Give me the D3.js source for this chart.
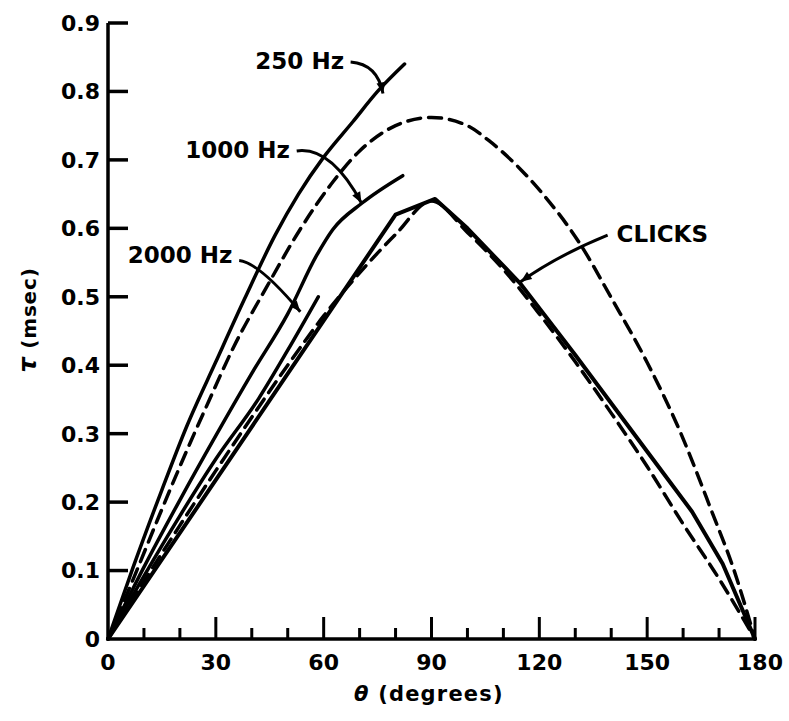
<!DOCTYPE html>
<html>
<head>
<meta charset="utf-8">
<script src="https://cdn.jsdelivr.net/npm/d3@7"></script>
<style>
  html, body { margin: 0; padding: 0; background: #ffffff; }
  svg { display: block; }
  text { font-family: "DejaVu Sans", "Liberation Sans", Arial, sans-serif; font-weight: bold; fill: #000; }
</style>
</head>
<body>
<svg id="chart" width="789" height="721"></svg>
<script>
// ---- data (theta in degrees, tau in msec) ----
const xTicksMajor = [0, 30, 60, 90, 120, 150, 180];
const xTicksMinor = [10, 20, 40, 50, 70, 80, 100, 110, 130, 140, 160, 170];
const yTicks = [0, 0.1, 0.2, 0.3, 0.4, 0.5, 0.6, 0.7, 0.8, 0.9];
const yTickLabels = ["0", "0.1", "0.2", "0.3", "0.4", "0.5", "0.6", "0.7", "0.8", "0.9"];

const hz250 = [[0,0],[7,0.105],[15,0.218],[22,0.312],[30,0.405],[38,0.497],[46.5,0.59],[53,0.65],[60,0.704],[68,0.755],[75,0.8],[82.5,0.84]];
const hz1000 = [[0,0],[10,0.105],[20,0.203],[30,0.297],[40,0.388],[50,0.475],[58,0.56],[62.5,0.598],[70.7,0.637],[82,0.677]];
const hz2000 = [[0,0],[10,0.092],[20,0.18],[30,0.263],[42,0.352],[50,0.422],[58.5,0.5]];
const clicks = [[0,0],[20,0.155],[40,0.31],[60,0.465],[80,0.62],[91,0.643],[100,0.6],[114.6,0.52],[130,0.415],[150,0.274],[162.5,0.186],[171,0.11],[180,0]];
const upperDashed = [[0,0],[8,0.1],[13.6,0.172],[20,0.252],[28,0.347],[35,0.427],[44,0.513],[53.4,0.598],[62.6,0.668],[70,0.713],[80,0.75],[90,0.762],[100,0.75],[106,0.728],[115,0.685],[121,0.65],[131,0.58],[140.5,0.494],[150,0.404],[159,0.305],[168,0.186],[174,0.103],[180,0]];
const lowerDashed = [[0,0],[10,0.084],[20,0.166],[30,0.246],[40,0.324],[50,0.4],[60,0.472],[70,0.535],[80,0.591],[90,0.64],[100,0.594],[110,0.54],[120,0.475],[130,0.405],[140,0.33],[150,0.252],[160,0.168],[170,0.088],[180,0]];

const labels = [
  {text: "250 Hz", theta: 41, tau: 0.845},
  {text: "1000 Hz", theta: 21.5, tau: 0.715},
  {text: "2000 Hz", theta: 5.5, tau: 0.562},
  {text: "CLICKS", theta: 141.5, tau: 0.592}
];
// leaders: [start point, control point, end point] in data coords
const leaders = [
  [[67.5,0.843],[75,0.84],[76.5,0.797]],
  [[52.5,0.713],[62,0.72],[70.5,0.637]],
  [[36.5,0.553],[42,0.55],[53.5,0.478]],
  [[139,0.59],[125,0.56],[114.8,0.522]]
];

// ---- scales ----
const svg = d3.select("#chart");
const x = d3.scaleLinear().domain([0, 180]).range([108, 755]);
const y = d3.scaleLinear().domain([0, 0.9]).range([639, 23]);

const g = svg.append("g");

// axes lines
g.append("line").attr("x1", x(0)).attr("x2", x(0)).attr("y1", y(0)).attr("y2", y(0.9))
  .attr("stroke", "#000").attr("stroke-width", 3.5);
g.append("line").attr("x1", x(0)).attr("x2", x(180)).attr("y1", y(0)).attr("y2", y(0))
  .attr("stroke", "#000").attr("stroke-width", 3.5);

// y ticks (inward)
g.selectAll(".ytick").data(yTicks.filter(d => d > 0)).join("line")
  .attr("x1", x(0)).attr("x2", x(0) + 20)
  .attr("y1", d => y(d)).attr("y2", d => y(d))
  .attr("stroke", "#000").attr("stroke-width", 3.5);
g.selectAll(".ylab").data(yTicks).join("text")
  .attr("x", 100).attr("y", d => y(d)).attr("dy", "0.36em")
  .attr("text-anchor", "end").attr("font-size", 22)
  .text((d, i) => yTickLabels[i]);

// x ticks (inward, upwards)
g.selectAll(".xmaj").data(xTicksMajor.filter(d => d > 0)).join("line")
  .attr("x1", d => x(d)).attr("x2", d => x(d))
  .attr("y1", y(0)).attr("y2", y(0) - 22)
  .attr("stroke", "#000").attr("stroke-width", 3);
g.selectAll(".xmin").data(xTicksMinor).join("line")
  .attr("x1", d => x(d)).attr("x2", d => x(d))
  .attr("y1", y(0)).attr("y2", y(0) - 11)
  .attr("stroke", "#000").attr("stroke-width", 3);
g.selectAll(".xlab").data(xTicksMajor).join("text")
  .attr("x", d => x(d) + (d === 180 ? 5 : 0)).attr("y", y(0) + 23).attr("dy", "0.36em")
  .attr("text-anchor", "middle").attr("font-size", 22)
  .text(d => d);

// axis titles
const xt = g.append("text").attr("x", 354).attr("y", 693).attr("dy", "0.36em")
  .attr("font-size", 21).attr("letter-spacing", 1.2);
xt.append("tspan").attr("font-style", "italic").text("θ");
xt.append("tspan").text(" (degrees)");
const yt = g.append("text").attr("transform", "translate(29,320) rotate(-90)")
  .attr("dy", "0.36em").attr("text-anchor", "middle").attr("font-size", 20).attr("letter-spacing", 0.8);
yt.append("tspan").attr("font-style", "italic").attr("font-size", 24).text("τ");
yt.append("tspan").text(" (msec)");

// curves
const lineSmooth = d3.line().x(d => x(d[0])).y(d => y(d[1])).curve(d3.curveMonotoneX);
const lineStraight = d3.line().x(d => x(d[0])).y(d => y(d[1])).curve(d3.curveLinear);

const series = [
  {data: upperDashed, gen: lineSmooth, dash: "13,8", w: 3.5},
  {data: lowerDashed, gen: lineSmooth, dash: "13,8", w: 3.5},
  {data: hz250, gen: lineSmooth, dash: null, w: 3.5},
  {data: hz1000, gen: lineSmooth, dash: null, w: 3.5},
  {data: hz2000, gen: lineSmooth, dash: null, w: 3.5},
  {data: clicks, gen: lineStraight, dash: null, w: 4}
];
series.forEach(s => {
  g.append("path").attr("d", s.gen(s.data))
    .attr("fill", "none").attr("stroke", "#000")
    .attr("stroke-width", s.w).attr("stroke-linejoin", "round").attr("stroke-linecap", "round")
    .attr("stroke-dasharray", s.dash);
});

// labels
g.selectAll(".lab").data(labels).join("text")
  .attr("x", d => x(d.theta)).attr("y", d => y(d.tau)).attr("dy", "0.36em")
  .attr("font-size", 23).text(d => d.text);

// leaders with arrowheads
leaders.forEach(L => {
  const p = L.map(d => [x(d[0]), y(d[1])]);
  g.append("path").attr("d", `M${p[0][0]},${p[0][1]} Q${p[1][0]},${p[1][1]} ${p[2][0]},${p[2][1]}`)
    .attr("fill", "none").attr("stroke", "#000").attr("stroke-width", 3);
  const ang = Math.atan2(p[2][1] - p[1][1], p[2][0] - p[1][0]);
  const len = 11, wd = 4.5;
  const bx = p[2][0] - len * Math.cos(ang), by = p[2][1] - len * Math.sin(ang);
  const nx = -Math.sin(ang) * wd, ny = Math.cos(ang) * wd;
  g.append("path").attr("d", `M${p[2][0]},${p[2][1]} L${bx + nx},${by + ny} L${bx - nx},${by - ny} Z`)
    .attr("fill", "#000");
});
</script>
</body>
</html>
